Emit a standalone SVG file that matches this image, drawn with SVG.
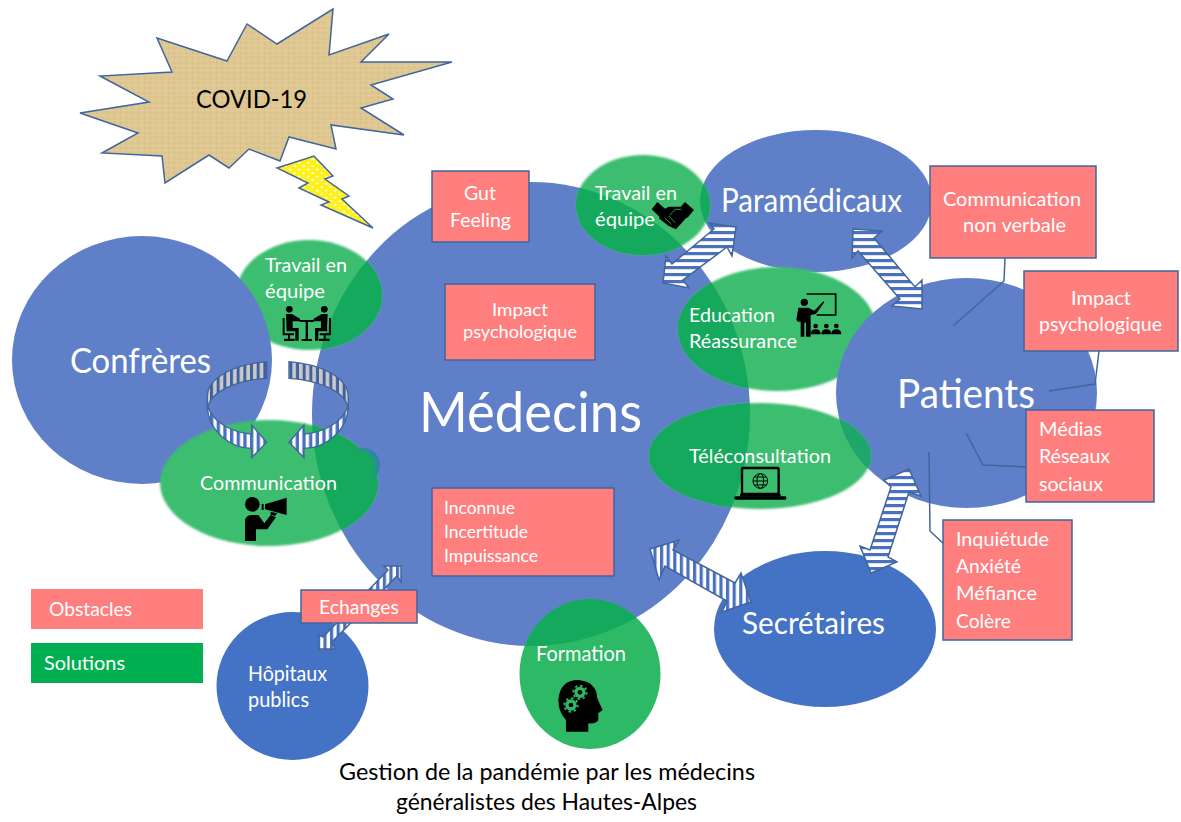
<svg xmlns="http://www.w3.org/2000/svg" width="1181" height="822" viewBox="0 0 1181 822">
<style>
text{font-family:"Lato","Carlito","Liberation Sans",sans-serif;fill:#fff;font-size:20px}
.k{fill:#000}
.box{fill:#ff7f7f;stroke:#41659c;stroke-width:1.5}
.med{fill:#5f80c8}
.deep{fill:#4472c4}
.g{fill:#3dbd70;filter:url(#soft)}
.gd{fill:#15a95e}
.gm{fill:#1fa66c}
.lead{fill:none;stroke:#41659c;stroke-width:1.5}
.arr{stroke:#41659c;stroke-width:1.5;stroke-linejoin:miter}
.hs{fill:url(#hstripe)}
.vs{fill:url(#vstripe)}
</style>
<defs>
<filter id="soft" x="-5%" y="-5%" width="110%" height="110%"><feGaussianBlur stdDeviation="0.8"/></filter>
<pattern id="hstripe" patternUnits="userSpaceOnUse" width="7" height="7"><rect width="7" height="7" fill="#fff"/><rect width="7" height="3.2" fill="#4a70c0"/></pattern>
<pattern id="vstripe" patternUnits="userSpaceOnUse" width="6.6" height="7"><rect width="6.6" height="7" fill="#fff"/><rect width="3.2" height="7" fill="#4a70c0"/></pattern>
<pattern id="vfront" patternUnits="userSpaceOnUse" width="20" height="20"><rect width="20" height="20" fill="#fff"/><rect width="10" height="20" fill="#4a70c0"/></pattern>
<pattern id="vback" patternUnits="userSpaceOnUse" width="20" height="20"><rect width="20" height="20" fill="#c9c9c9"/><rect width="9" height="20" fill="#3f619f"/></pattern>
<pattern id="tex" patternUnits="userSpaceOnUse" width="6" height="5"><rect width="6" height="5" fill="#dfc791"/><rect width="1" height="5" fill="#d8bf86"/><rect width="6" height="1" fill="#e2cc9b"/></pattern>
<pattern id="dots" patternUnits="userSpaceOnUse" width="9" height="7"><rect width="9" height="7" fill="#ffef1a"/><ellipse cx="2.2" cy="1.7" rx="1.3" ry="0.9" fill="#fff"/><ellipse cx="6.7" cy="5.2" rx="1.3" ry="0.9" fill="#fff"/></pattern>
<radialGradient id="spot" cx="0.3" cy="0.6" r="0.75"><stop offset="0" stop-color="#15a95e"/><stop offset="0.65" stop-color="#15a95e"/><stop offset="1" stop-color="#3d72c8"/></radialGradient>
<clipPath id="cMed"><ellipse cx="531" cy="414" rx="219" ry="232"/></clipPath>
<clipPath id="cPat"><ellipse cx="966" cy="393" rx="130.5" ry="115"/></clipPath>
<clipPath id="cPara"><ellipse cx="816" cy="201" rx="116" ry="71"/></clipPath>
</defs>

<g id="node-covid">
<polygon points="333,9 329,55 389,34 361,62 452,62 371,85 393,99 361,108 404,135 331,125 336,149 289,137 280,161 249,149 229,168 209,155 165,183 162,156 102,153 138,133 80,113 149,102 100,76 172,72 157,38 227,61 247,24 277,44" fill="url(#tex)" stroke="#41659c" stroke-width="1.5"/>
<text class="k" x="196" y="108" style="font-size:25px" textLength="111" lengthAdjust="spacingAndGlyphs">COVID-19</text>
</g>
<g id="node-eclair">
<polygon points="277,168 314,156 333,176 325,179 349,196 342,199 373,228 321,205 329,202 299,188 308,183" fill="url(#dots)" stroke="#41659c" stroke-width="1.5"/>
</g>

<g id="node-medecins">
<ellipse class="med" cx="531" cy="414" rx="219" ry="232"/>
<text x="419" y="432" style="font-size:56px" textLength="223" lengthAdjust="spacingAndGlyphs">Médecins</text>
</g>
<g id="node-paramedicaux">
<ellipse class="med" cx="816" cy="201" rx="116" ry="71"/>
<text x="721" y="212" style="font-size:32px" textLength="181" lengthAdjust="spacingAndGlyphs">Paramédicaux</text>
</g>

<g id="node-travail-gauche">
<ellipse class="g" cx="309" cy="295" rx="73" ry="55"/>
<ellipse class="gd" cx="309" cy="295" rx="73" ry="55" clip-path="url(#cMed)"/>
<text x="265" y="272" textLength="82" lengthAdjust="spacingAndGlyphs">Travail en</text>
<text x="265" y="298" textLength="60" lengthAdjust="spacingAndGlyphs">équipe</text>
<g transform="translate(150,240) scale(0.3333)">
<g id="meet-l">
<circle cx="418" cy="208" r="10"/>
<path d="M408,222 H426 L450,236 V244 H428 V264 H446 V302 H436 V274 H410 Z"/>
<path d="M398,234 H404 V280 H432 V286 H420 V296 H434 V303 H402 V296 H414 V286 H398 Z"/>
</g>
<use href="#meet-l" transform="translate(941,0) scale(-1,1)"/>
<rect x="450" y="240" width="41" height="6"/><rect x="467" y="246" width="7" height="52"/><rect x="455" y="297" width="31" height="6"/>
</g>
</g>

<g id="node-education">
<ellipse class="g" cx="777" cy="329" rx="99" ry="62"/>
<ellipse class="gd" cx="777" cy="329" rx="99" ry="62" clip-path="url(#cMed)"/>
<text x="689" y="322" textLength="86" lengthAdjust="spacingAndGlyphs">Education</text>
<text x="689" y="348" textLength="108" lengthAdjust="spacingAndGlyphs">Réassurance</text>
</g>

<g id="node-confreres">
<ellipse class="med" cx="142" cy="360" rx="130" ry="124"/>
<text x="70" y="373" style="font-size:35px" textLength="141" lengthAdjust="spacingAndGlyphs">Confrères</text>
</g>
<g id="node-patients">
<ellipse class="med" cx="966.500" cy="393" rx="130.5" ry="115"/>
<text x="897" y="408" style="font-size:40px" textLength="138" lengthAdjust="spacingAndGlyphs">Patients</text>
</g>
<g id="icon-education" transform="translate(570,140) scale(0.3333)">
<path d="M710,462 H797 V525 H740" fill="none" stroke="#000" stroke-width="5"/>
<circle cx="703" cy="487" r="11"/>
<path d="M685,503 H715 L733,512 L760,484 L763,487 L738,522 L722,525 V590 H708 V548 H703 V590 H692 V545 H684 L679,540 Z"/>
<g id="stud"><circle cx="737" cy="558" r="7"/><path d="M722,583 Q722,568 737,568 Q752,568 752,583 Z"/></g>
<use href="#stud" x="32"/><use href="#stud" x="62"/>
</g>

<g id="node-travail-haut">
<ellipse class="g" cx="643" cy="205" rx="67" ry="50"/>
<ellipse class="gd" cx="643" cy="205" rx="67" ry="50" clip-path="url(#cMed)"/>
<ellipse class="gd" cx="643" cy="205" rx="67" ry="50" clip-path="url(#cPara)"/>
<text x="595" y="200" textLength="82" lengthAdjust="spacingAndGlyphs">Travail en</text>
<text x="595" y="226" textLength="60" lengthAdjust="spacingAndGlyphs">équipe</text>
<g transform="translate(570,140) scale(0.3333)">
<path d="M245,208 L262,186 L292,212 L272,234 Z"/>
<path d="M345,186 L372,210 L352,234 L326,208 Z"/>
<path d="M268,216 L296,200 H335 L356,226 L318,268 L296,258 L268,236 Z"/>
<path d="M298,226 L316,208 H334 M284,234 L304,252 M296,228 L316,248" fill="none" stroke="#2fb168" stroke-width="2.5"/>
</g>
</g>

<g id="node-communication">
<ellipse class="g" cx="269" cy="483" rx="109" ry="63"/>
<ellipse class="gd" cx="269" cy="483" rx="109" ry="63" clip-path="url(#cMed)"/>
<circle cx="363" cy="465" r="17" fill="url(#spot)"/>
<text x="200" y="490" textLength="137" lengthAdjust="spacingAndGlyphs">Communication</text>
<g transform="translate(150,240) scale(0.3333)">
<circle cx="307" cy="793" r="22"/>
<path d="M285,903 V845 Q285,825 305,825 H325 L343,850 L362,825 L378,832 L352,868 H318 V903 Z"/>
<path d="M345,793 L410,773 V825 L345,808 Z"/><rect x="335" y="792" width="6" height="18"/>
<path d="M362,815 L382,820 L375,828 L362,824 Z"/>
</g>
</g>

<g id="node-teleconsultation">
<ellipse class="g" cx="760" cy="456" rx="111" ry="53"/>
<ellipse class="gd" cx="760" cy="456" rx="111" ry="53" clip-path="url(#cMed)"/>
<ellipse class="gm" cx="760" cy="456" rx="111" ry="53" clip-path="url(#cPat)"/>
<text x="689" y="463" textLength="142" lengthAdjust="spacingAndGlyphs">Téléconsultation</text>
<g transform="translate(640,400) scale(0.3333)">
<rect x="306" y="204" width="110" height="78" rx="3" fill="none" stroke="#000" stroke-width="7"/>
<rect x="283" y="289" width="156" height="10" rx="4"/><rect x="300" y="282" width="122" height="8"/>
<circle cx="361" cy="243" r="22" fill="none" stroke="#000" stroke-width="3"/>
<ellipse cx="361" cy="243" rx="10" ry="22" fill="none" stroke="#000" stroke-width="3"/>
<path d="M339,243 H383 M343,231 H379 M343,255 H379" fill="none" stroke="#000" stroke-width="3"/>
</g>
</g>

<g id="node-secretaires">
<ellipse class="deep" cx="825" cy="629" rx="111" ry="78"/>
<text x="742" y="634" style="font-size:31px" textLength="143" lengthAdjust="spacingAndGlyphs">Secrétaires</text>
</g>
<g id="node-hopitaux">
<ellipse class="deep" cx="292.500" cy="686" rx="76" ry="74"/>
<text x="248" y="681" style="font-size:21px" textLength="79" lengthAdjust="spacingAndGlyphs">Hôpitaux</text>
<text x="248" y="707" style="font-size:21px" textLength="61" lengthAdjust="spacingAndGlyphs">publics</text>
</g>
<g id="node-formation">
<ellipse cx="590" cy="674" rx="70.500" ry="75" fill="#2eb966"/>
<ellipse class="gd" cx="590" cy="674" rx="70.500" ry="75" clip-path="url(#cMed)"/>
<text x="536" y="661" style="font-size:21px" textLength="90" lengthAdjust="spacingAndGlyphs">Formation</text>
<g transform="translate(200,540) scale(0.3333)">
<path d="M1098,575 V540 Q1075,515 1075,480 Q1080,420 1135,420 Q1190,425 1192,475 L1208,510 L1195,520 V540 Q1190,552 1165,550 V575 Z"/>
<g id="gear"><circle cx="1140" cy="457" r="17" fill="#2eb966"/><circle cx="1140" cy="457" r="20" fill="none" stroke="#2eb966" stroke-width="6" stroke-dasharray="7 8.700"/><circle cx="1140" cy="457" r="7"/></g>
<use href="#gear" x="-27" y="38"/>
</g>
</g>

<g id="connectors">
<polygon class="arr hs" points="736,227 709,223 714,229 672,264 666,256 663,283 689,288 683,280 727,247 732,256"/>
<polygon class="arr hs" points="853,229 882,231 874,238 915,287 922,280 922,309 892,306 900,299 858,251 852,258"/>
<polygon class="arr hs" points="909,469 921,496 909,492 888,557 897,562 871,573 860,546 870,550 891,487 884,480"/>
<polygon class="arr vs" points="650,549 679,540 673,550 735,583 741,573 751,602 722,612 727,601 665,566 659,580"/>
<polygon class="arr vs" points="401,566 401,582 397,576 332,642 335,649 319,649 319,635 323,637 388,570 384,566"/>
<g id="rotation" transform="translate(150,240) scale(0.3333)">
<g id="rot-side" stroke="#41659c" stroke-width="4">
<path d="M350,365 C260,372 172,410 172,470 L172,510 C176,450 270,420 350,415 Z" fill="url(#vback)"/>
<path d="M173,498 C190,550 250,578 305,582 L305,555 L350,607 L305,653 L305,625 C240,625 172,570 173,498 Z" fill="url(#vfront)"/>
</g>
<use href="#rot-side" transform="translate(767,0) scale(-1,1)"/>
</g>
<path class="lead" d="M1005,258 L1004,281 L953,326"/>
<path class="lead" d="M1099,351 L1095,384 L1049,391"/>
<path class="lead" d="M1027,467 L983,465 L966,433"/>
<path class="lead" d="M946,546 L930,531 L929,452"/>
</g>

<g id="box-gut"><rect class="box" x="432" y="171" width="97" height="71"/>
<text x="464" y="200" textLength="32" lengthAdjust="spacingAndGlyphs">Gut</text>
<text x="450" y="227" textLength="61" lengthAdjust="spacingAndGlyphs">Feeling</text></g>
<g id="box-impact-med"><rect class="box" x="445" y="284" width="150" height="76"/>
<text x="492" y="316" style="font-size:18px" textLength="56" lengthAdjust="spacingAndGlyphs">Impact</text>
<text x="463" y="338" style="font-size:18px" textLength="114" lengthAdjust="spacingAndGlyphs">psychologique</text></g>
<g id="box-inconnue"><rect class="box" x="432" y="488" width="182" height="88"/>
<text x="444" y="514" style="font-size:17px" textLength="71" lengthAdjust="spacingAndGlyphs">Inconnue</text>
<text x="444" y="538" style="font-size:17px" textLength="84" lengthAdjust="spacingAndGlyphs">Incertitude</text>
<text x="444" y="562" style="font-size:17px" textLength="94" lengthAdjust="spacingAndGlyphs">Impuissance</text></g>
<g id="box-echanges"><rect class="box" x="301" y="590" width="116" height="33"/>
<text x="319" y="614" style="font-size:19px" textLength="80" lengthAdjust="spacingAndGlyphs">Echanges</text></g>
<g id="box-non-verbale"><rect class="box" x="930" y="166" width="166" height="92"/>
<text x="943" y="206" textLength="138" lengthAdjust="spacingAndGlyphs">Communication</text>
<text x="963" y="232" textLength="103" lengthAdjust="spacingAndGlyphs">non verbale</text></g>
<g id="box-impact-pat"><rect class="box" x="1024" y="271" width="154" height="80"/>
<text x="1071" y="305" textLength="60" lengthAdjust="spacingAndGlyphs">Impact</text>
<text x="1039" y="331" textLength="123" lengthAdjust="spacingAndGlyphs">psychologique</text></g>
<g id="box-medias"><rect class="box" x="1026" y="410" width="128" height="92"/>
<text x="1039" y="436" textLength="63" lengthAdjust="spacingAndGlyphs">Médias</text>
<text x="1039" y="463" textLength="71" lengthAdjust="spacingAndGlyphs">Réseaux</text>
<text x="1039" y="491" textLength="64" lengthAdjust="spacingAndGlyphs">sociaux</text></g>
<g id="box-inquietude"><rect class="box" x="943" y="520" width="129" height="120"/>
<text x="956" y="546" textLength="93" lengthAdjust="spacingAndGlyphs">Inquiétude</text>
<text x="956" y="573" textLength="65" lengthAdjust="spacingAndGlyphs">Anxiété</text>
<text x="956" y="600" textLength="81" lengthAdjust="spacingAndGlyphs">Méfiance</text>
<text x="956" y="628" textLength="55" lengthAdjust="spacingAndGlyphs">Colère</text></g>

<g id="legend-obstacles"><rect x="31" y="589" width="172" height="40" fill="#ff7f7f"/>
<text x="49" y="616" style="font-size:19px" textLength="83" lengthAdjust="spacingAndGlyphs">Obstacles</text></g>
<g id="legend-solutions"><rect x="31" y="643" width="172" height="40" fill="#00b050"/>
<text x="44" y="670" style="font-size:19px" textLength="81" lengthAdjust="spacingAndGlyphs">Solutions</text></g>

<g id="caption">
<text class="k" x="339" y="780" style="font-size:23px" textLength="416" lengthAdjust="spacingAndGlyphs">Gestion de la pandémie par les médecins</text>
<text class="k" x="396" y="810" style="font-size:23px" textLength="301" lengthAdjust="spacingAndGlyphs">généralistes des Hautes-Alpes</text>
</g>
</svg>
